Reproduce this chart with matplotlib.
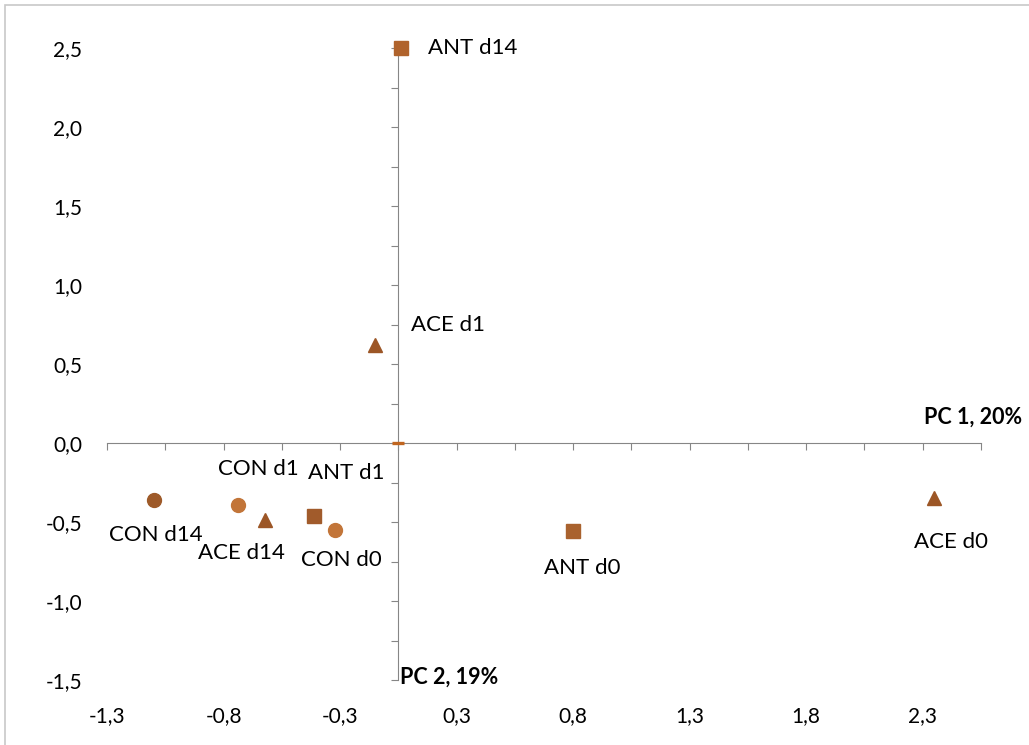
import matplotlib
matplotlib.use('Agg')
import matplotlib.pyplot as plt
import numpy as np
from matplotlib.patches import Rectangle

plt.rcParams['font.family'] = ['Lato', 'DejaVu Sans']

# PCA scores
samples = ['CON d0', 'CON d1', 'CON d14',
           'ANT d0', 'ANT d1', 'ANT d14',
           'ACE d0', 'ACE d1', 'ACE d14']
pc1 = [-0.27, -0.69, -1.05, 0.75, -0.36, 0.01, 2.30, -0.10, -0.57]
pc2 = [-0.55, -0.39, -0.36, -0.56, -0.46, 2.50, -0.35, 0.62, -0.49]

# small orange mark sitting on the origin
extra_x = [0.0]
extra_y = [0.0]

xtick_vals = [-1.25, -0.75, -0.25, 0.25, 0.75, 1.25, 1.75, 2.25]
xtick_text = ['-1,3', '-0,8', '-0,3', '0,3', '0,8', '1,3', '1,8', '2,3']
ytick_vals = [-1.5, -1.0, -0.5, 0.0, 0.5, 1.0, 1.5, 2.0, 2.5]
ytick_text = ['-1,5', '-1,0', '-0,5', '0,0', '0,5', '1,0', '1,5', '2,0', '2,5']

# styles
group_marker = {'CON': 'o', 'ANT': 's', 'ACE': '^'}
point_colors = ['#C27539', '#C27539', '#9E5A29',
                '#A9622E', '#A15B2B', '#B0632C',
                '#9C5626', '#9C5626', '#9C5626']
# label offsets in pixels (text centre relative to marker)
label_off = [(6, -30), (21, 36), (2, -35),
             (9, -37), (32, 43), (72, 0),
             (17, -44), (73, 20), (-24, -33)]

fig = plt.figure(figsize=(10.29, 7.45), dpi=100)
pos = [107/1029, 1 - 680/745, 874/1029, 632/745]
ax = fig.add_axes(pos)
xlim = (-1.25, 2.5)
ylim = (-1.5, 2.5)
ax.set_xlim(xlim)
ax.set_ylim(ylim)

axis_col = '#868686'
for s in ['top', 'right']:
    ax.spines[s].set_visible(False)
for s in ['left', 'bottom']:
    ax.spines[s].set_position(('data', 0))
    ax.spines[s].set_color(axis_col)
    ax.spines[s].set_linewidth(0.8)
ax.set_xticks(np.arange(-1.25, 2.51, 0.25))
ax.set_yticks(np.arange(-1.5, 2.51, 0.25))
ax.tick_params(length=5, width=0.8, color=axis_col, direction='out',
               labelbottom=False, labelleft=False)

# tick labels sit at the edges of the plot area (Excel "low" labels)
ax2 = fig.add_axes(pos)
ax2.set_xlim(xlim)
ax2.set_ylim(ylim)
ax2.patch.set_visible(False)
for s in ax2.spines.values():
    s.set_visible(False)
ax2.set_xticks(xtick_vals, xtick_text)
ax2.set_yticks(ytick_vals, ytick_text)
ax2.tick_params(length=0, labelsize=15, labelcolor='black')
ax2.tick_params(axis='y', pad=18)
ax2.tick_params(axis='x', pad=19)

for i, name in enumerate(samples):
    m = group_marker[name.split()[0]]
    ax.plot(pc1[i], pc2[i], linestyle='none', marker=m, markersize=10,
            color=point_colors[i], zorder=5, clip_on=False)
    ax.annotate(name, (pc1[i], pc2[i]), xytext=label_off[i],
                textcoords='offset pixels', ha='center', va='center',
                fontsize=16, color='black', zorder=6)

ax.plot(extra_x, extra_y, linestyle='none', marker='_', markersize=8.5,
        markeredgewidth=2.4, color='#C0651F', zorder=5, clip_on=False)

# axis titles
ax.annotate('PC 1, 20%', (xlim[1], 0), xytext=(41, 26),
            textcoords='offset pixels', ha='right', va='center',
            fontsize=15.5, fontweight='bold', color='black')
ax.annotate('PC 2, 19%', (0, ylim[0]), xytext=(2, 3),
            textcoords='offset pixels', ha='left', va='center',
            fontsize=15.5, fontweight='bold', color='black')

# chart border
fig.patches.append(Rectangle((5/1029, -0.05), 1.1, 1 - 5/745 + 0.05,
                             transform=fig.transFigure, fill=False,
                             edgecolor='#C8C8C8', linewidth=1.2))

fig.savefig('out.png', dpi=100)
